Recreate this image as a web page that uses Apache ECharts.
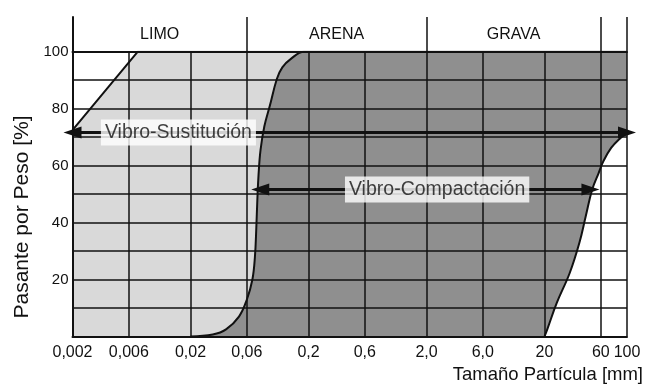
<!DOCTYPE html>
<html>
<head>
<meta charset="utf-8">
<script src="https://cdn.jsdelivr.net/npm/echarts@6/dist/echarts.min.js"></script>
<style>
  html, body { margin: 0; padding: 0; background: #ffffff; }
  #chart { width: 649px; height: 389px; }
</style>
</head>
<body>
<div id="chart"></div>
<script>
// Particle size axis (mm) and its printed tick labels
const sizeTicks = [0.002, 0.006, 0.02, 0.06, 0.2, 0.6, 2, 6, 20, 60, 100];
const sizeTickLabels = ['0,002', '0,006', '0,02', '0,06', '0,2', '0,6', '2,0', '6,0', '20', '60', '100'];
const passingTicks = [20, 40, 60, 80, 100];

// Soil classes along the top band: [name, from mm, to mm]
const soilClasses = [
  ['LIMO', 0.002, 0.06],
  ['ARENA', 0.06, 2],
  ['GRAVA', 2, 60]
];
const soilClassEdges = [0.002, 0.06, 2, 60, 100];

// Upper-left limit of the vibro-substitution zone [mm, % passing]
const sustitucionLimit = [[0.002, 72.5], [0.00715, 100], [100, 100]];

// Fine-side limit of the vibro-compaction zone [mm, % passing]
const compactacionFine = [
  [0.02, 0], [0.0309, 0.7], [0.040, 2.5], [0.0515, 7], [0.0601, 13],
  [0.0669, 20], [0.0703, 28], [0.0722, 38], [0.0737, 48], [0.0755, 57],
  [0.0785, 65.6], [0.0845, 73.8], [0.094, 81], [0.108, 90.5],
  [0.12, 94.5], [0.141, 97.4], [0.184, 100], [100, 100]
];

// Coarse-side limit shared by both zones [mm, % passing]
const coarseLimit = [
  [20, 0], [21.1, 2.5], [25.4, 11.8], [32.7, 22.3], [39.5, 32.9],
  [44.7, 42.2], [50.7, 51.6], [57.5, 57.4], [63, 61.5], [73.4, 66.2],
  [88.1, 69.7], [100, 71.5]
];

// Range arrows: [from mm, to mm] at a % passing level
const sustitucionRange = [0.002, 100];
const sustitucionLevel = 71.6;
const compactacionRange = [0.078, 49];
const compactacionLevel = 51.6;

const FONT = "'Liberation Sans', Arial, Helvetica, sans-serif";
const INK = '#111111';
const LIGHT = '#d9d9d9';
const DARK = '#8f8f8f';

function sizeLabel(v) {
  let best = 0, bestErr = Infinity;
  sizeTicks.forEach((t, i) => {
    const e = Math.abs(Math.log(v / t));
    if (e < bestErr) { bestErr = e; best = i; }
  });
  return bestErr < 0.01 ? sizeTickLabels[best] : '';
}

const chart = echarts.init(document.getElementById('chart'), null, { renderer: 'canvas' });

const option = {
  animation: false,
  backgroundColor: '#ffffff',
  grid: [
    { left: 72.5, right: 22, top: 51.7, bottom: 52.5 },
    { left: 72.5, right: 22, top: 17, height: 34.7 }
  ],
  xAxis: [
    {
      type: 'log', logBase: 10, min: 0.002, max: 100, gridIndex: 0, z: 3,
      axisLine: { show: true, lineStyle: { color: INK, width: 2 } },
      axisTick: { show: false, customValues: sizeTicks },
      axisLabel: {
        customValues: sizeTicks, formatter: sizeLabel, margin: 8,
        color: INK, fontFamily: FONT, fontSize: 16
      },
      splitLine: { show: true, lineStyle: { color: INK, width: 1.5 } },
      minorSplitLine: { show: false }
    },
    {
      type: 'log', logBase: 10, min: 0.002, max: 100, gridIndex: 1, z: 3,
      position: 'top',
      axisLine: { show: true, lineStyle: { color: INK, width: 2 } },
      axisTick: { show: false, customValues: soilClassEdges },
      axisLabel: { show: false },
      splitLine: { show: true, lineStyle: { color: INK, width: 1.5 } }
    }
  ],
  yAxis: [
    {
      type: 'value', min: 0, max: 100, interval: 10, gridIndex: 0, z: 3,
      axisLine: { show: true, lineStyle: { color: INK, width: 2 } },
      axisTick: { show: false },
      axisLabel: {
        customValues: passingTicks, margin: 4,
        color: INK, fontFamily: FONT, fontSize: 15
      },
      splitLine: { show: true, lineStyle: { color: INK, width: 1.5 } }
    },
    {
      type: 'value', min: 0, max: 1, gridIndex: 1, z: 3,
      axisLine: { show: true, lineStyle: { color: INK, width: 2 } },
      axisTick: { show: false },
      axisLabel: { show: false },
      splitLine: { show: false }
    }
  ],
  series: [
    {
      name: 'Vibro-Sustitución',
      type: 'line', xAxisIndex: 0, yAxisIndex: 0, z: 1,
      data: sustitucionLimit, symbol: 'none', silent: true,
      lineStyle: { color: INK, width: 2 },
      areaStyle: { color: LIGHT, opacity: 1, origin: 'start' }
    },
    {
      name: 'Vibro-Compactación',
      type: 'line', xAxisIndex: 0, yAxisIndex: 0, z: 1,
      data: compactacionFine, symbol: 'none', silent: true,
      smooth: 0.4,
      lineStyle: { color: INK, width: 2 },
      areaStyle: { color: DARK, opacity: 1, origin: 'start' }
    },
    {
      name: 'Límite grueso',
      type: 'line', xAxisIndex: 0, yAxisIndex: 0, z: 1,
      data: coarseLimit, symbol: 'none', silent: true,
      smooth: 0.4,
      lineStyle: { color: INK, width: 2 },
      areaStyle: { color: '#ffffff', opacity: 1, origin: 'start' }
    },
    {
      name: 'Rangos',
      type: 'line', xAxisIndex: 0, yAxisIndex: 0, data: [], silent: true,
      markLine: {
        silent: true, z: 5,
        symbol: ['triangle', 'triangle'], symbolSize: [12, 18],
        label: { show: false },
        lineStyle: { color: INK, width: 3.2, type: 'solid' },
        data: [
          [{ coord: [sustitucionRange[0], sustitucionLevel] }, { coord: [sustitucionRange[1], sustitucionLevel] }],
          [{ coord: [compactacionRange[0], compactacionLevel] }, { coord: [compactacionRange[1], compactacionLevel] }]
        ]
      }
    },
    {
      name: 'Etiquetas',
      type: 'scatter', xAxisIndex: 0, yAxisIndex: 0, z: 10, silent: true,
      symbolSize: 0,
      data: [
        { name: 'Vibro-Sustitución', value: [0.0158, sustitucionLevel] },
        { name: 'Vibro-Compactación', value: [2.46, compactacionLevel] }
      ],
      label: {
        show: true, position: 'inside', formatter: '{b}',
        color: INK, fontFamily: FONT, fontSize: 19.5,
        backgroundColor: '#ffffff', padding: [4, 4, 2, 4]
      }
    },
    {
      name: 'Clases',
      type: 'line', xAxisIndex: 1, yAxisIndex: 1, data: [], silent: true,
      markArea: {
        silent: true,
        itemStyle: { color: 'rgba(0,0,0,0)' },
        label: {
          show: true, position: 'inside',
          color: INK, fontFamily: FONT, fontSize: 16
        },
        data: soilClasses.map(c => [{ name: c[0], xAxis: c[1] }, { xAxis: c[2] }])
      }
    }
  ],
  graphic: [
    {
      type: 'text', x: 22, y: 217, rotation: Math.PI / 2,
      style: {
        text: 'Pasante por Peso [%]', fill: INK,
        font: "21px 'Liberation Sans', Arial, sans-serif",
        align: 'center', verticalAlign: 'middle'
      }
    },
    {
      type: 'text', x: 643, y: 375,
      style: {
        text: 'Tamaño Partícula [mm]', fill: INK,
        font: "18.5px 'Liberation Sans', Arial, sans-serif",
        align: 'right', verticalAlign: 'middle'
      }
    }
  ]
};

chart.setOption(option);
</script>
</body>
</html>
